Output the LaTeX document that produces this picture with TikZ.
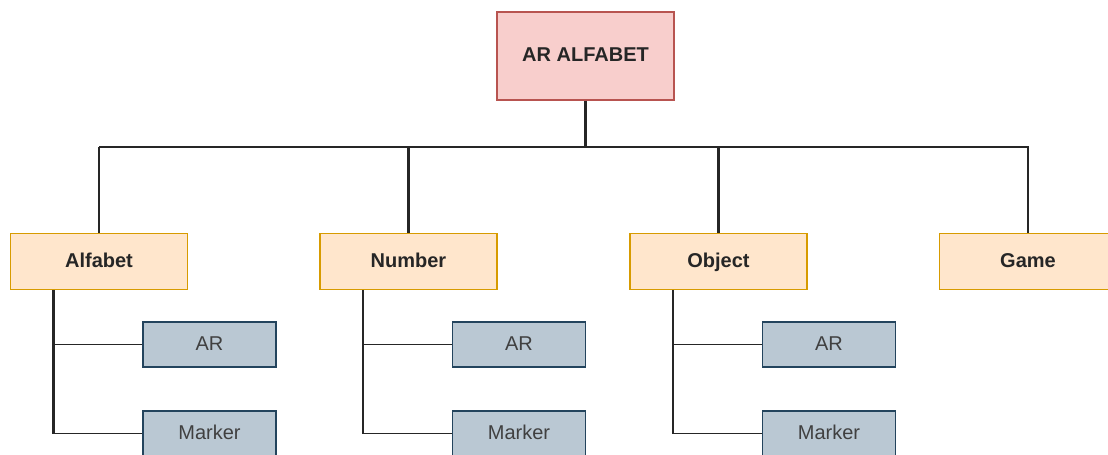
\documentclass[tikz,border=0pt]{standalone}
\usepackage{fontspec}
\setmainfont{Liberation Sans}
\usetikzlibrary{positioning}

\definecolor{rootfill}{HTML}{F8CECC}
\definecolor{rootline}{HTML}{B85450}
\definecolor{menufill}{HTML}{FFE6CC}
\definecolor{menuline}{HTML}{D79B00}
\definecolor{subfill}{HTML}{BAC8D3}
\definecolor{subline}{HTML}{23445D}

\tikzset{
  boxtext/.style={text height=1.8ex, text depth=0.2ex},
  rootbox/.style={boxtext, draw=rootline, fill=rootfill, line width=0.8pt, minimum width=132.75pt, minimum height=66pt, font=\fontsize{15}{18}\selectfont\bfseries, text=black!85},
  menubox/.style={boxtext, draw=menuline, fill=menufill, line width=0.8pt, minimum width=132.75pt, minimum height=42pt, font=\fontsize{15}{18}\selectfont\bfseries, text=black!85},
  subbox/.style={boxtext, draw=subline, fill=subfill, line width=0.8pt, minimum width=99.75pt, minimum height=33.75pt, font=\fontsize{15}{18}\selectfont, text=black!75},
  tree/.style={line width=1.7pt, black!85},
  twig/.style={line width=1.3pt, black!85}
}

\begin{document}
\begin{tikzpicture}[x=0.75pt, y=-0.75pt]
  \useasboundingbox (0,0) rectangle (1108,454);

  \node[rootbox] (root) at (585.5,56) {AR ALFABET};
  \coordinate (bar) at (585.5,147);

  \node[menubox] (game) at (1028,261.5) {Game};

  \foreach \n/\x/\t in {alf/99/Alfabet, num/408.5/Number, obj/718.5/Object} {
    \node[menubox] (\n) at (\x,261.5) {\t};
    \node[subbox] (\n-ar) at (\x+110.5,344.5) {AR};
    \node[subbox] (\n-mk) at (\x+110.5,433.5) {Marker};
    \draw[tree] (\n.north) -- (\n.north |- bar);
    % branch to AR and Marker
    \draw[tree] (\n.south west) ++(43.5,0) coordinate (\n-t) -- (\n-t |- \n-mk.west);
    \draw[twig] (\n-ar.west) -- (\n-ar.west -| \n-t);
    \draw[twig] (\n-mk.west) -- (\n-mk.west -| \n-t);
  }

  \draw[tree] (root.south) -- (bar);
  \draw[tree] (alf.north |- bar) -- (game.north |- bar) -- (game.north);
\end{tikzpicture}
\end{document}
